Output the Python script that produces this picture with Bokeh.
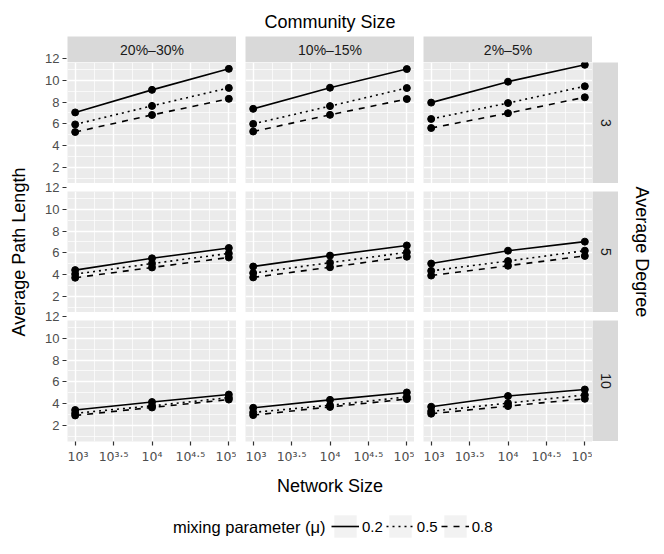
import math
from bokeh.plotting import figure
from bokeh.models import Range1d, FixedTicker, Label, Legend, LegendItem, Spacer
from bokeh.layouts import row, column
from bokeh.embed import file_html
from bokeh.resources import INLINE

# ---------------- data ----------------
network_size = [1000, 10000, 100000]
community_size = ["20%–30%", "10%–15%", "2%–5%"]
average_degree = ["3", "5", "10"]
mixing_parameter = ["0.2", "0.5", "0.8"]

x_tick_values = [10 ** 3, 10 ** 3.5, 10 ** 4, 10 ** 4.5, 10 ** 5]
x_minor_values = [10 ** 3.25, 10 ** 3.75, 10 ** 4.25, 10 ** 4.75]
x_tick_labels = ["10³", "10³·⁵", "10⁴", "10⁴·⁵", "10⁵"]
y_tick_values = [2, 4, 6, 8, 10, 12]
y_tick_labels = ["2", "4", "6", "8", "10", "12"]
y_minor_values = [1, 3, 5, 7, 9, 11]

# average path length, one list per mixing parameter (0.2, 0.5, 0.8)
apl_k3_c20_30 = [[7.05, 9.12, 11.05], [5.95, 7.65, 9.30], [5.25, 6.82, 8.30]]
apl_k3_c10_15 = [[7.38, 9.32, 11.03], [6.00, 7.63, 9.29], [5.30, 6.83, 8.28]]
apl_k3_c2_5 = [[7.95, 9.87, 11.42], [6.45, 7.91, 9.45], [5.62, 6.98, 8.44]]
apl_k5_c20_30 = [[4.42, 5.50, 6.45], [4.05, 5.02, 5.95], [3.72, 4.66, 5.58]]
apl_k5_c10_15 = [[4.75, 5.75, 6.68], [4.15, 5.10, 6.05], [3.75, 4.68, 5.65]]
apl_k5_c2_5 = [[5.02, 6.20, 7.03], [4.35, 5.25, 6.20], [3.92, 4.82, 5.72]]
apl_k10_c20_30 = [[3.42, 4.15, 4.84], [3.12, 3.80, 4.55], [2.92, 3.65, 4.38]]
apl_k10_c10_15 = [[3.62, 4.35, 5.03], [3.20, 3.85, 4.62], [2.95, 3.70, 4.42]]
apl_k10_c2_5 = [[3.72, 4.70, 5.30], [3.30, 4.05, 4.80], [3.08, 3.78, 4.45]]

panel_data = [
    [apl_k3_c20_30, apl_k3_c10_15, apl_k3_c2_5],
    [apl_k5_c20_30, apl_k5_c10_15, apl_k5_c2_5],
    [apl_k10_c20_30, apl_k10_c10_15, apl_k10_c2_5],
]

# ---------------- style / layout ----------------
FONT = "Liberation Sans"
TICK_FONT = "DejaVu Sans"
DASH = {"0.2": "solid", "0.5": "2 4", "0.8": "6 6"}
PANEL_BG = "#EBEBEB"
STRIP_BG = "#D9D9D9"

PW, PH = 169, 121          # panel frame size
GAP, VGAP = 9, 8           # gaps between panels
STRIP = 26                 # strip thickness
XAX_H = 26                 # bottom axis height
Y_LO = 0.53
PX_PER_UNIT = 10.9
AX_BORDER = 36
YLAB_W = 30
RT_W = 46
TOTAL_W = 664
TITLE_H = 36
MID_H = STRIP + 3 * PH + 2 * VGAP + XAX_H
AXIS_H = STRIP + 3 * PH + 2 * VGAP     # height of the shared y-axis strip
XTITLE_H = 36
LEG_H = 51
PANEL_CX = YLAB_W + AX_BORDER + 1 + (3 * PW + 2 * GAP) / 2


def blank_fig(w, h, bg="white"):
    p = figure(width=w, height=h, x_range=Range1d(0, w), y_range=Range1d(0, h),
               x_axis_location=None, y_axis_location=None,
               toolbar_location=None, output_backend="svg", min_border=0)
    p.grid.visible = False
    p.outline_line_color = None
    p.background_fill_color = bg
    p.border_fill_color = "white"
    return p


def text_fig(w, h, text, x, y, size, angle=0.0, bg="white", color="black", align="center"):
    p = blank_fig(w, h, bg)
    p.add_layout(Label(x=x, y=y, text=text, text_align=align, text_baseline="middle",
                       text_font=FONT, text_font_size=size, text_color=color,
                       angle=angle))
    return p


def style_axis(ax, font, size):
    ax.axis_line_color = None
    ax.major_tick_line_color = "#333333"
    ax.major_tick_line_width = 1.2
    ax.major_tick_out = 4
    ax.major_tick_in = 0
    ax.minor_tick_line_color = None
    ax.major_label_standoff = 3
    ax.major_label_text_font = font
    ax.major_label_text_font_size = size
    ax.major_label_text_color = "#4D4D4D"


def make_panel(series, bottom):
    p = figure(width=PW, height=PH + (XAX_H if bottom else 0),
               x_axis_type="log", x_range=Range1d(10 ** 2.9, 10 ** 5.1),
               y_range=Range1d(Y_LO, Y_LO + PH / PX_PER_UNIT),
               x_axis_location="below" if bottom else None,
               y_axis_location=None,
               toolbar_location=None, output_backend="svg", min_border=0)
    if bottom:
        p.min_border_bottom = XAX_H
    p.background_fill_color = PANEL_BG
    p.border_fill_color = "white"
    p.outline_line_color = None
    xt = FixedTicker(ticks=x_tick_values, minor_ticks=x_minor_values)
    yt = FixedTicker(ticks=y_tick_values, minor_ticks=y_minor_values)
    for g, t in ((p.xgrid[0], xt), (p.ygrid[0], yt)):
        g.ticker = t
        g.grid_line_color = "white"
        g.grid_line_width = 1.4
        g.minor_grid_line_color = "white"
        g.minor_grid_line_width = 0.7
    for mu, vals in zip(mixing_parameter, series):
        p.line(network_size, vals, line_color="black", line_width=1.6, line_dash=DASH[mu])
        p.scatter(network_size, vals, size=7, color="black")
    if bottom:
        ax = p.xaxis[0]
        ax.ticker = xt
        ax.major_label_overrides = dict(zip(x_tick_values, x_tick_labels))
        style_axis(ax, TICK_FONT, "12.5px")
    return p


# shared y-axis for the three facet rows: its scale is in screen pixels measured
# up from the bottom of the last row, each row's value scale is mapped onto it
def make_yaxis_fig():
    p = figure(width=AX_BORDER + 1, height=AXIS_H, x_range=Range1d(0, 1),
               y_range=Range1d(0, AXIS_H),
               x_axis_location=None, y_axis_location="left",
               toolbar_location=None, output_backend="svg", min_border=0)
    p.min_border_left = AX_BORDER
    p.grid.visible = False
    p.outline_line_color = None
    p.background_fill_alpha = 0
    p.border_fill_color = "white"
    ticks, overrides = [], {}
    for r in range(3):
        row_bottom = (2 - r) * (PH + VGAP)
        for v, lab in zip(y_tick_values, y_tick_labels):
            pos = row_bottom + (v - Y_LO) * PX_PER_UNIT
            ticks.append(pos)
            overrides[pos] = lab
    ax = p.yaxis[0]
    ax.ticker = FixedTicker(ticks=ticks)
    ax.major_label_overrides = overrides
    style_axis(ax, FONT, "13px")
    return p


# title
title_fig = text_fig(TOTAL_W, TITLE_H, "Community Size", PANEL_CX, TITLE_H - 21, "18px")

# strips on top
strips = [text_fig(PW, STRIP, c, PW / 2, STRIP / 2, "14px", bg=STRIP_BG, color="#1A1A1A")
          for c in community_size]
strip_row = row(strips[0], Spacer(width=GAP, height=STRIP), strips[1],
                Spacer(width=GAP, height=STRIP), strips[2])

# panel rows
prow = []
for r in range(3):
    bottom = r == 2
    figs = [make_panel(panel_data[r][c], bottom) for c in range(3)]
    h = PH + (XAX_H if bottom else 0)
    prow.append(row(figs[0], Spacer(width=GAP, height=h), figs[1],
                    Spacer(width=GAP, height=h), figs[2]))
PANELS_W = 3 * PW + 2 * GAP
panels_col = column(strip_row, prow[0], Spacer(width=PANELS_W, height=VGAP), prow[1],
                    Spacer(width=PANELS_W, height=VGAP), prow[2])

axis_col = column(make_yaxis_fig())

# right strips
rstrips = [text_fig(STRIP, PH, d, STRIP / 2, PH / 2, "14px", angle=-math.pi / 2,
                    bg=STRIP_BG, color="#1A1A1A") for d in average_degree]
rstrip_col = column(Spacer(width=STRIP, height=STRIP), rstrips[0],
                    Spacer(width=STRIP, height=VGAP), rstrips[1],
                    Spacer(width=STRIP, height=VGAP), rstrips[2])

ylab_fig = text_fig(YLAB_W, MID_H, "Average Path Length", 18, MID_H - 215.5, "18px",
                    angle=math.pi / 2)
rtitle_fig = text_fig(RT_W, MID_H, "Average Degree", 23, MID_H - 215.5, "18px",
                      angle=-math.pi / 2)

middle = row(ylab_fig, axis_col, panels_col, rstrip_col, rtitle_fig)

# x title
xtitle_fig = text_fig(TOTAL_W, XTITLE_H, "Network Size", PANEL_CX, XTITLE_H - 18, "18px")

# legend (key renderers use the real series; they lie outside this strip's range)
leg_fig = text_fig(TOTAL_W, LEG_H, "mixing parameter (μ)", 325, LEG_H - 23, "16.5px",
                   align="right")
items = []
for mu, vals in zip(mixing_parameter, apl_k3_c20_30):
    bg = leg_fig.rect(x=network_size, y=vals, width=1, height=1,
                      fill_color="#F2F2F2", line_color=None)
    ln = leg_fig.line(x=network_size, y=vals, line_color="black", line_width=1.6,
                      line_dash=DASH[mu])
    items.append(LegendItem(label=mu, renderers=[bg, ln]))
legend = Legend(items=items, orientation="horizontal", location=(331, LEG_H - 23 - 14),
                glyph_width=28, glyph_height=28, label_standoff=3, spacing=3,
                padding=0, margin=0, border_line_color=None, background_fill_alpha=0,
                label_text_font=FONT, label_text_font_size="15px", label_text_color="black",
                label_width=0, label_height=0)
leg_fig.add_layout(legend, "center")

layout = column(title_fig, middle, xtitle_fig, leg_fig)

open("out.html", "w").write(file_html(layout, INLINE))
